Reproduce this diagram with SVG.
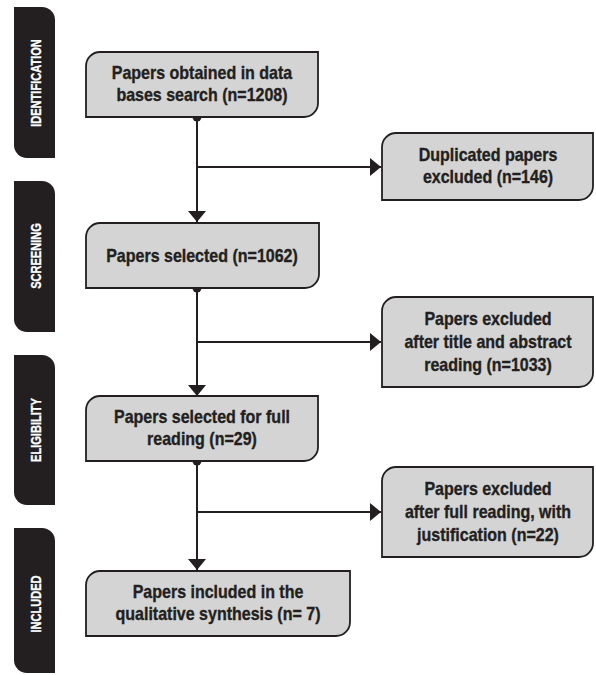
<svg xmlns="http://www.w3.org/2000/svg" width="596" height="675" viewBox="0 0 596 675">
<style>
.tab{fill:#231f20}
.tabt{fill:#ffffff;stroke:#ffffff;stroke-width:0.3;font-family:"Liberation Sans",Arial,sans-serif;font-weight:bold;font-size:14px;text-anchor:middle}
.box{fill:#d4d4d4;stroke:#231f20;stroke-width:1.8}
.bt{fill:#231f20;stroke:#231f20;stroke-width:0.35;font-family:"Liberation Sans",Arial,sans-serif;font-weight:bold;font-size:18px;text-anchor:middle}
.ln{fill:none;stroke:#231f20;stroke-width:2}
.dot{fill:#231f20}
</style>
<defs>
<marker id="arr" viewBox="0 0 11 18" refX="11" refY="9" markerWidth="11" markerHeight="18" markerUnits="userSpaceOnUse" orient="auto">
<path d="M0,0 L11,9 L0,18 Z" fill="#231f20"/>
</marker>
</defs>
<g id="tab-identification">
<path class="tab" d="M14,7 H42 A13,13 0 0 1 55,20 V158 H27 A13,13 0 0 1 14,145 Z"/>
<text class="tabt" transform="translate(40.5,83) rotate(-90) scale(0.79,1)">IDENTIFICATION</text>
</g>
<g id="tab-screening">
<path class="tab" d="M14,181 H42 A13,13 0 0 1 55,194 V332 H27 A13,13 0 0 1 14,319 Z"/>
<text class="tabt" transform="translate(40.5,256) rotate(-90) scale(0.79,1)">SCREENING</text>
</g>
<g id="tab-eligibility">
<path class="tab" d="M14,355 H42 A13,13 0 0 1 55,368 V505 H27 A13,13 0 0 1 14,492 Z"/>
<text class="tabt" transform="translate(40.5,430) rotate(-90) scale(0.79,1)">ELIGIBILITY</text>
</g>
<g id="tab-included">
<path class="tab" d="M14,528 H42 A13,13 0 0 1 55,541 V673 H27 A13,13 0 0 1 14,660 Z"/>
<text class="tabt" transform="translate(40.5,604) rotate(-90) scale(0.79,1)">INCLUDED</text>
</g>
<g id="connectors">
<path class="ln" d="M197,117 V222" marker-end="url(#arr)"/>
<path class="ln" d="M197,167 H381" marker-end="url(#arr)"/>
<path class="ln" d="M197,288 V396" marker-end="url(#arr)"/>
<path class="ln" d="M197,342 H381" marker-end="url(#arr)"/>
<path class="ln" d="M197,461 V570" marker-end="url(#arr)"/>
<path class="ln" d="M197,512 H381" marker-end="url(#arr)"/>
<circle class="dot" cx="197" cy="117" r="4.5"/>
<circle class="dot" cx="197" cy="288" r="4.5"/>
<circle class="dot" cx="197" cy="461" r="4.5"/>
</g>
<g id="node-obtained">
<path class="box" d="M86,66 A14,14 0 0 1 100,52 H318 V103 A14,14 0 0 1 304,117 H86 Z"/>
<text class="bt" transform="translate(202,79) scale(0.89,1)"><tspan x="0" y="0">Papers obtained in data</tspan><tspan x="0" y="22">bases search (n=1208)</tspan></text>
</g>
<g id="node-duplicated">
<path class="box" d="M382,147 A14,14 0 0 1 396,133 H593 V186 A14,14 0 0 1 579,200 H382 Z"/>
<text class="bt" transform="translate(488,161) scale(0.89,1)"><tspan x="0" y="0">Duplicated papers</tspan><tspan x="0" y="22">excluded (n=146)</tspan></text>
</g>
<g id="node-selected">
<path class="box" d="M86,237 A14,14 0 0 1 100,223 H319 V274 A14,14 0 0 1 305,288 H86 Z"/>
<text class="bt" transform="translate(202,262) scale(0.89,1)"><tspan x="0" y="0">Papers selected (n=1062)</tspan></text>
</g>
<g id="node-excluded-abstract">
<path class="box" d="M382,311 A14,14 0 0 1 396,297 H593 V373 A14,14 0 0 1 579,387 H382 Z"/>
<text class="bt" transform="translate(488,325) scale(0.89,1)"><tspan x="0" y="0">Papers excluded</tspan><tspan x="0" y="23">after title and abstract</tspan><tspan x="0" y="46">reading (n=1033)</tspan></text>
</g>
<g id="node-full-reading">
<path class="box" d="M86,410 A14,14 0 0 1 100,396 H318 V447 A14,14 0 0 1 304,461 H86 Z"/>
<text class="bt" transform="translate(202,423) scale(0.89,1)"><tspan x="0" y="0">Papers selected for full</tspan><tspan x="0" y="22">reading (n=29)</tspan></text>
</g>
<g id="node-excluded-full">
<path class="box" d="M382,481 A14,14 0 0 1 396,467 H593 V543 A14,14 0 0 1 579,557 H382 Z"/>
<text class="bt" transform="translate(488,495) scale(0.89,1)"><tspan x="0" y="0">Papers excluded</tspan><tspan x="0" y="23">after full reading, with</tspan><tspan x="0" y="46">justification (n=22)</tspan></text>
</g>
<g id="node-included">
<path class="box" d="M86,585 A14,14 0 0 1 100,571 H350 V622 A14,14 0 0 1 336,636 H86 Z"/>
<text class="bt" transform="translate(218,598) scale(0.89,1)"><tspan x="0" y="0">Papers included in the</tspan><tspan x="0" y="22">qualitative synthesis (n= 7)</tspan></text>
</g>
</svg>
